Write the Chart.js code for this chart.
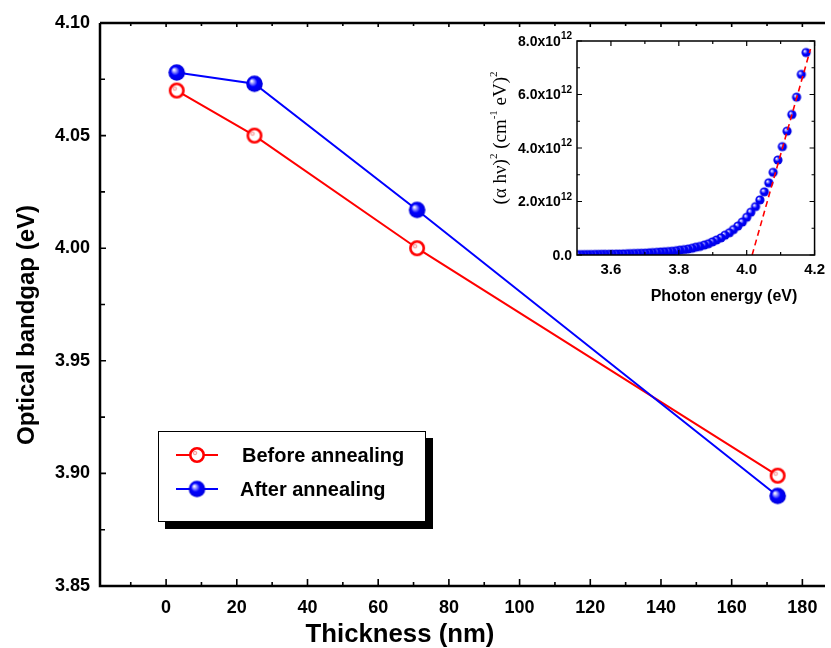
<!DOCTYPE html>
<html>
<head>
<meta charset="utf-8">
<script src="https://cdn.jsdelivr.net/npm/chart.js@4"></script>
<style>
  html, body { margin: 0; padding: 0; background: #fff; }
  #wrap { position: relative; width: 831px; height: 648px; overflow: hidden; }
  #mainChart { position: absolute; left: 0; top: 0; }
  #insetChart { position: absolute; left: 460px; top: 25px; }
</style>
</head>
<body>
<div id="wrap">
  <canvas id="mainChart" width="831" height="648"></canvas>
  <canvas id="insetChart" width="371" height="295"></canvas>
</div>
<script>
// main plot data
const thickness = [3, 25, 71, 173]
const gapBefore = [4.070, 4.050, 4.000, 3.899]
const gapAfter = [4.078, 4.073, 4.017, 3.890]
const mainYTicks = [3.85, 3.90, 3.95, 4.00, 4.05, 4.10]
const mainYMinor = [3.875, 3.925, 3.975, 4.025, 4.075]
const mainXTicks = [0, 20, 40, 60, 80, 100, 120, 140, 160, 180]
const mainXMinor = [-10, 10, 30, 50, 70, 90, 110, 130, 150, 170]

// inset data (tauc plot), values in units of 1e12
const photonEnergy = [4.175, 4.161, 4.147, 4.133, 4.119, 4.105, 4.092, 4.078, 4.065, 4.052,
  4.039, 4.026, 4.012, 4.000, 3.987, 3.974, 3.961, 3.949, 3.936, 3.924,
  3.911, 3.899, 3.887, 3.875, 3.862, 3.850, 3.839, 3.827, 3.815, 3.803,
  3.792, 3.780, 3.769, 3.757, 3.746, 3.735, 3.723, 3.712, 3.701, 3.690,
  3.679, 3.668, 3.657, 3.647, 3.636, 3.625, 3.615, 3.604, 3.594, 3.583,
  3.573, 3.563, 3.553, 3.542, 3.532, 3.522, 3.512, 3.502]
const tauc = [7.57, 6.75, 5.90, 5.25, 4.63, 4.05, 3.55, 3.09, 2.70, 2.36,
  2.06, 1.81, 1.60, 1.41, 1.23, 1.08, 0.95, 0.83, 0.74, 0.64,
  0.56, 0.49, 0.42, 0.37, 0.32, 0.29, 0.25, 0.22, 0.20, 0.18,
  0.16, 0.14, 0.13, 0.12, 0.11, 0.10, 0.09, 0.08, 0.07, 0.065,
  0.06, 0.055, 0.05, 0.045, 0.04, 0.037, 0.034, 0.031, 0.028, 0.026,
  0.024, 0.022, 0.020, 0.018, 0.016, 0.015, 0.014, 0.013]
const fitEnergy = [4.016, 4.188]
const fitValue = [0, 7.7]
const insetXTicks = [3.6, 3.8, 4.0, 4.2]
const insetXMinor = [3.7, 3.9, 4.1]
const insetYTicks = [0, 2, 4, 6, 8]
const insetYMinor = [1, 3, 5, 7]

const FONT = "'Liberation Sans', Arial, sans-serif"
const SERIF = "'Liberation Serif', 'Times New Roman', serif"

// marker images
function makeSphere(r) {
    const c = document.createElement('canvas')
    const s = Math.ceil(r * 2 + 2)
    c.width = s; c.height = s
    const g = c.getContext('2d')
    const cx = s / 2, cy = s / 2
    const grad = g.createRadialGradient(cx - r * 0.35, cy - r * 0.35, r * 0.05, cx, cy, r)
    grad.addColorStop(0, '#ffffff')
    grad.addColorStop(0.25, '#8080ff')
    grad.addColorStop(0.5, '#0000ff')
    grad.addColorStop(1, '#0000dd')
    g.fillStyle = grad
    g.beginPath(); g.arc(cx, cy, r, 0, Math.PI * 2); g.fill()
    return c
}

function makeRing(r) {
    const c = document.createElement('canvas')
    const s = Math.ceil(r * 2 + 2)
    c.width = s; c.height = s
    const g = c.getContext('2d')
    const cx = s / 2, cy = s / 2
    g.fillStyle = '#fff'
    g.beginPath(); g.arc(cx, cy, r - 1, 0, Math.PI * 2); g.fill()
    const hl = g.createRadialGradient(cx - 2, cy - 2, 0.3, cx - 2, cy - 2, 2.8)
    hl.addColorStop(0, '#ffffff')
    hl.addColorStop(0.5, '#f6a0a0')
    hl.addColorStop(1, 'rgba(246,160,160,0)')
    g.fillStyle = hl
    g.beginPath(); g.arc(cx - 2, cy - 2, 2.8, 0, Math.PI * 2); g.fill()
    g.strokeStyle = '#ff0000'
    g.lineWidth = 2.6
    g.beginPath(); g.arc(cx, cy, r - 1.3, 0, Math.PI * 2); g.stroke()
    return c
}

const bigSphere = makeSphere(8.3)
const bigRing = makeRing(8)
const smallSphere = makeSphere(4.6)

function setTicks(list) {
    return scale => { scale.ticks = list.map(v => ({ value: v })) }
}

function drawTicks(ctx, scale, values, len, side, area) {
    ctx.beginPath()
    values.forEach(v => {
        const p = scale.getPixelForValue(v)
        if (side === 'left') { ctx.moveTo(area.left, p); ctx.lineTo(area.left + len, p) }
        if (side === 'right') { ctx.moveTo(area.right, p); ctx.lineTo(area.right - len, p) }
        if (side === 'bottom') { ctx.moveTo(p, area.bottom); ctx.lineTo(p, area.bottom - len) }
        if (side === 'top') { ctx.moveTo(p, area.top); ctx.lineTo(p, area.top + len) }
    })
    ctx.stroke()
}

// text with superscripts; align 'center' or 'right', sx = horizontal stretch
function drawRich(ctx, parts, x, y, size, family, opts = {}) {
    const supSize = opts.supSize || Math.round(size * 0.6)
    const weight = opts.weight || 'normal'
    const fontFor = p => weight + ' ' + (p.sup ? supSize : size) + 'px ' + family
    ctx.save()
    ctx.translate(x, y)
    if (opts.rotate) ctx.rotate(-Math.PI / 2)
    if (opts.sx) ctx.scale(opts.sx, 1)
    ctx.fillStyle = '#000'
    ctx.textBaseline = 'middle'
    ctx.textAlign = 'left'
    let total = 0
    parts.forEach(p => {
        ctx.font = fontFor(p)
        p.w = ctx.measureText(p.t).width
        total += p.w
    })
    let cx = opts.align === 'right' ? -total : -total / 2
    parts.forEach(p => {
        ctx.font = fontFor(p)
        ctx.fillText(p.t, cx, p.sup ? -size * 0.38 : 0)
        cx += p.w
    })
    ctx.restore()
}

// main chart frame, ticks, titles and legend
const mainFrame = {
    id: 'mainFrame',
    afterDraw(chart) {
        const { ctx, chartArea: a, scales } = chart
        ctx.save()
        ctx.strokeStyle = '#000'
        ctx.lineWidth = 2.5
        ctx.beginPath()
        ctx.moveTo(a.left, a.top); ctx.lineTo(a.left, a.bottom); ctx.lineTo(a.right, a.bottom)
        ctx.moveTo(a.left, a.top); ctx.lineTo(a.right, a.top)
        ctx.stroke()
        ctx.lineWidth = 1.6
        drawTicks(ctx, scales.y, mainYTicks, 6, 'left', a)
        drawTicks(ctx, scales.y, mainYMinor, 5, 'left', a)
        drawTicks(ctx, scales.x, mainXTicks, 7, 'bottom', a)
        drawTicks(ctx, scales.x, mainXMinor, 4, 'bottom', a)
        drawTicks(ctx, scales.x, mainXTicks, 4, 'top', a)
        drawTicks(ctx, scales.x, mainXMinor, 3, 'top', a)

        // axis titles
        drawRich(ctx, [{ t: 'Thickness (nm)' }], 400, 635, 25, FONT, { sx: 1.03, weight: 'bold' })
        drawRich(ctx, [{ t: 'Optical bandgap (eV)' }], 27, 325, 24, FONT, { rotate: true, weight: 'bold' })

        // legend box
        ctx.fillStyle = '#000'
        ctx.fillRect(165, 438, 268, 91)
        ctx.fillStyle = '#fff'
        ctx.fillRect(158, 431, 268, 91)
        ctx.lineWidth = 1
        ctx.strokeRect(158.5, 431.5, 267, 90)
        const rows = [
            { y: 455, color: '#ff0000', img: bigRing, text: 'Before annealing', tx: 242 },
            { y: 489, color: '#0000ff', img: bigSphere, text: 'After annealing', tx: 240 }
        ]
        rows.forEach(r => {
            ctx.strokeStyle = r.color
            ctx.lineWidth = 2
            ctx.beginPath(); ctx.moveTo(176, r.y); ctx.lineTo(218, r.y); ctx.stroke()
            ctx.drawImage(r.img, 197 - r.img.width / 2, r.y - r.img.height / 2)
            ctx.fillStyle = '#000'
            ctx.font = 'bold 20px ' + FONT
            ctx.textAlign = 'left'
            ctx.textBaseline = 'middle'
            ctx.fillText(r.text, r.tx, r.y + 1)
        })
        ctx.restore()
    }
}

new Chart(document.getElementById('mainChart').getContext('2d'), {
    type: 'line',
    data: {
        datasets: [
            {
                label: 'After annealing',
                data: thickness.map((t, i) => ({ x: t, y: gapAfter[i] })),
                borderColor: '#0000ff',
                borderWidth: 2,
                pointStyle: bigSphere,
                showLine: true
            },
            {
                label: 'Before annealing',
                data: thickness.map((t, i) => ({ x: t, y: gapBefore[i] })),
                borderColor: '#ff0000',
                borderWidth: 2,
                pointStyle: bigRing,
                showLine: true
            }
        ]
    },
    options: {
        responsive: false,
        animation: false,
        layout: { padding: { left: 0, top: 23, right: 0, bottom: 0 } },
        plugins: { legend: { display: false }, tooltip: { enabled: false } },
        scales: {
            x: {
                type: 'linear',
                min: -18.7,
                max: 186.4,
                afterBuildTicks: setTicks(mainXTicks),
                afterFit: s => { s.height = 62 },
                grid: { display: false, drawTicks: false },
                border: { display: false },
                ticks: { color: '#000', font: { family: FONT, size: 18, weight: 'bold' }, padding: 11, maxRotation: 0 }
            },
            y: {
                type: 'linear',
                min: 3.85,
                max: 4.10,
                afterBuildTicks: setTicks(mainYTicks),
                afterFit: s => { s.width = 100 },
                grid: { display: false, drawTicks: false },
                border: { display: false },
                ticks: {
                    color: '#000',
                    font: { family: FONT, size: 18, weight: 'bold' },
                    padding: 10,
                    callback: v => Number(v).toFixed(2)
                }
            }
        }
    },
    plugins: [mainFrame]
})

// inset frame, ticks, y labels with superscripts and titles
const insetFrame = {
    id: 'insetFrame',
    afterDraw(chart) {
        const { ctx, chartArea: a, scales } = chart
        ctx.save()
        ctx.strokeStyle = '#000'
        ctx.lineWidth = 1.5
        ctx.strokeRect(a.left, a.top, a.right - a.left, a.bottom - a.top)
        ctx.lineWidth = 1.2
        drawTicks(ctx, scales.x, insetXTicks, 5, 'bottom', a)
        drawTicks(ctx, scales.x, insetXMinor, 3, 'bottom', a)
        drawTicks(ctx, scales.x, insetXTicks, 5, 'top', a)
        drawTicks(ctx, scales.x, insetXMinor, 3, 'top', a)
        drawTicks(ctx, scales.y, insetYTicks, 5, 'left', a)
        drawTicks(ctx, scales.y, insetYMinor, 3, 'left', a)
        drawTicks(ctx, scales.y, insetYTicks, 5, 'right', a)
        drawTicks(ctx, scales.y, insetYMinor, 3, 'right', a)

        insetYTicks.forEach(v => {
            const py = scales.y.getPixelForValue(v)
            const parts = v === 0 ? [{ t: '0.0' }] : [{ t: v.toFixed(1) + 'x10' }, { t: '12', sup: true }]
            drawRich(ctx, parts, a.left - 5, py + 1, 14, FONT, { align: 'right', supSize: 10, weight: 'bold' })
        })

        drawRich(ctx, [{ t: 'Photon energy (eV)' }], 264, 272, 16, FONT, { weight: 'bold' })
        drawRich(ctx, [
            { t: '(\u03B1 h\u03BD)' }, { t: '2', sup: true }, { t: ' (cm' }, { t: '-1', sup: true },
            { t: ' eV)' }, { t: '2', sup: true }
        ], 41, 113, 19, SERIF, { rotate: true })
        ctx.restore()
    }
}

new Chart(document.getElementById('insetChart').getContext('2d'), {
    type: 'scatter',
    data: {
        datasets: [
            {
                label: 'fit',
                data: fitEnergy.map((e, i) => ({ x: e, y: fitValue[i] })),
                borderColor: '#ff0000',
                borderWidth: 1.6,
                borderDash: [6, 4],
                pointRadius: 0,
                showLine: true
            },
            {
                label: 'tauc',
                data: photonEnergy.map((e, i) => ({ x: e, y: tauc[i] })),
                pointStyle: smallSphere,
                showLine: false
            }
        ]
    },
    options: {
        responsive: false,
        animation: false,
        layout: { padding: { left: 0, top: 16, right: 11, bottom: 0 } },
        plugins: { legend: { display: false }, tooltip: { enabled: false } },
        scales: {
            x: {
                type: 'linear',
                min: 3.5,
                max: 4.2,
                afterBuildTicks: setTicks(insetXTicks),
                afterFit: s => { s.height = 65 },
                grid: { display: false, drawTicks: false },
                border: { display: false },
                ticks: {
                    color: '#000',
                    font: { family: FONT, size: 15, weight: 'bold' },
                    padding: 6,
                    maxRotation: 0,
                    callback: v => Number(v).toFixed(1)
                }
            },
            y: {
                type: 'linear',
                min: 0,
                max: 8,
                afterBuildTicks: setTicks(insetYTicks),
                afterFit: s => { s.width = 117 },
                grid: { display: false, drawTicks: false },
                border: { display: false },
                ticks: { display: false }
            }
        }
    },
    plugins: [insetFrame]
})
</script>
</body>
</html>
